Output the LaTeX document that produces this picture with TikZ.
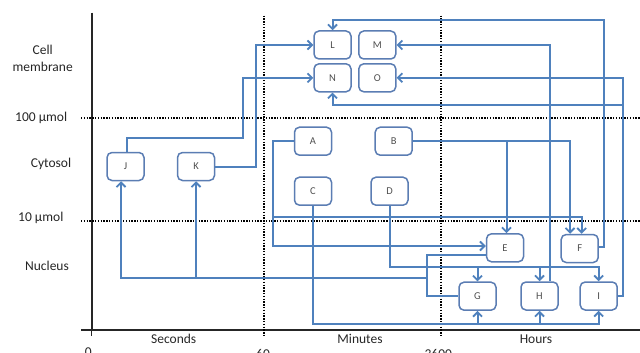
\documentclass[tikz,border=0pt]{standalone}
\usepackage{fontspec}
\setmainfont{Carlito}
\usetikzlibrary{arrows.meta}
\definecolor{conn}{HTML}{4F81BD}
\definecolor{boxc}{HTML}{5B7DB3}
\definecolor{txt}{HTML}{262626}
\definecolor{boxtxt}{HTML}{505050}
\begin{document}
\begin{tikzpicture}[x=1pt,y=-1pt,
  stage/.style={draw=boxc,line width=1.5pt,rounded corners=5pt,fill=white,
    minimum width=37pt,minimum height=28pt,inner sep=0pt,text=boxtxt,font=\fontsize{10.5}{12}\selectfont},
  lbl/.style={text=txt,font=\fontsize{13.5}{15}\selectfont,inner sep=0pt},
  link/.style={draw=conn,line width=2pt},
  arr/.style={link,-{Straight Barb[length=4.5pt,width=9pt,line width=1.8pt]}},
  dots/.style={line width=2pt,dash pattern=on 1.4pt off 1.4pt},
  axis/.style={line width=2.2pt,black!85}]
\useasboundingbox (0,0) rectangle (640,353);

% axes
\draw[axis] (91.7,12.7) -- (91.7,330);
\draw[axis] (81,330) -- (640,330);
\draw[line width=1.4pt,black!85] (91.7,330) -- (91.7,335.5);

% dotted guides
\draw[dots] (264,15.7) -- (264,337);
\draw[dots] (440.5,15.7) -- (440.5,337);
\draw[dots] (81,118.3) -- (640,118.3);
\draw[dots] (81,220.5) -- (640,220.5);

% row labels
\node[lbl] (tcell) at (42.7,50) {Cell};
\node[lbl] (tmem) at (42.7,67.3) {membrane};
\node[lbl] (t100) at (41.2,118) {100 µmol};
\node[lbl] (tcyt) at (51,164) {Cytosol};
\node[lbl] (t10) at (40.8,218.3) {10 µmol};
\node[lbl] (tnuc) at (47,265.7) {Nucleus};

% axis labels
\node[lbl] (tsec) at (173.7,339.3) {Seconds};
\node[lbl] (tmin) at (360,339.3) {Minutes};
\node[lbl] (thr) at (536,339.3) {Hours};
\node[lbl] (t0) at (88.3,352) {0};
\node[lbl] (t60) at (263,354) {60};
\node[lbl] (t3600) at (438.3,354) {3600};

\coordinate (av) at (272.5,217.3);
\coordinate (nn) at (623,105);

% nodes
\node[stage] (L) at (332.5,45) {L};
\node[stage] (M) at (377.3,45) {M};
\node[stage] (N) at (332.5,77.8) {N};
\node[stage] (O) at (377.3,77.8) {O};
\node[stage] (A) at (313,141.2) {A};
\node[stage] (B) at (393.7,141.2) {B};
\node[stage] (C) at (313,191.2) {C};
\node[stage] (D) at (389.5,191.2) {D};
\node[stage] (J) at (125.5,166.5) {J};
\node[stage] (K) at (196,166.5) {K};
\node[stage] (E) at (505,247.8) {E};
\node[stage] (F) at (579.7,248.5) {F};
\node[stage] (G) at (477.5,296.2) {G};
\node[stage] (H) at (539.5,296) {H};
\node[stage] (I) at (598.7,296) {I};

% J -> N, K -> L
\draw[arr] ([xshift=1.8pt]J.north) |- (243.3,138.3) |- (N.west);
\draw[arr] (K.east) -| (256,45) -- (L.west);
% F -> L
\draw[arr] ([yshift=1.5pt]F.east) -| (604,20) -| (L.north);
% H -> M
\draw[arr] ([xshift=10.3pt]H.north) |- (M.east);
% I -> O, I -> N
\draw[arr] (I.east) -| (623,77.8) -- (O.east);
\draw[arr] (nn) -| (N.south);
% A -> E, A -> F
\draw[arr] (A.west) -| (272.5,246) -- ([yshift=1.8pt]E.west);
\draw[arr] (av) -| ([xshift=2pt]F.north);
% B -> E, B -> F
\draw[arr] (B.east) -| ([xshift=1.5pt]E.north);
\draw[arr] (B.east) -| ([xshift=-9.7pt]F.north);
% D -> G, H, I
\draw[arr] (D.south) |- (598.7,267.3) -- (I.north);
\draw[arr] (477.5,267.3) -- (G.north);
\draw[arr] (539.5,267.3) -- (H.north);
% C -> G, H, I
\draw[arr] (C.south) |- (598.7,324) -- (I.south);
\draw[arr] (477.5,324) -- (G.south);
\draw[arr] (539.5,324) -- (H.south);
% G, E -> J, K
\draw[link] ([yshift=-7pt]E.west) -| (427,296.2) -- (G.west);
\draw[arr] (427,278) -| ([xshift=-4.5pt]J.south);
\draw[arr] (196,278) -- (K.south);
\end{tikzpicture}
\end{document}
